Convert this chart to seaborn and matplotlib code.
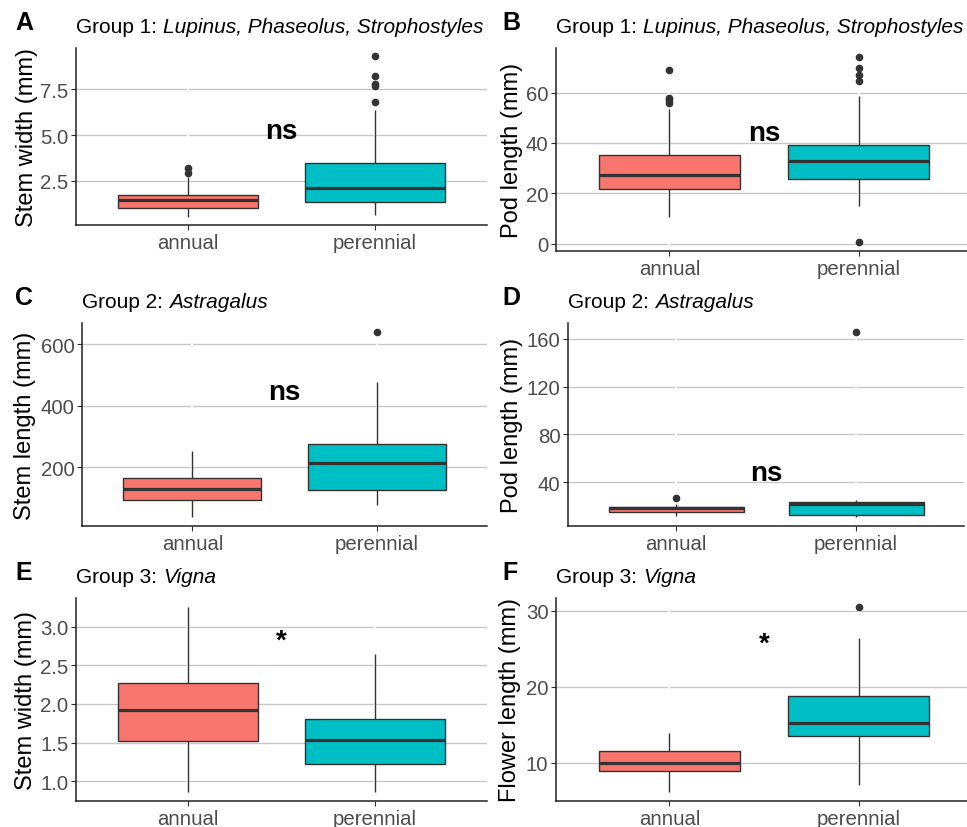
import matplotlib
matplotlib.use("Agg")
import matplotlib.pyplot as plt
import seaborn as sns
import pandas as pd

W, H = 967, 828

habits = ["annual", "perennial"]
fills = ["#F8766D", "#00BFC4"]

# A: group 1 stem width
a_annual = [0.52, 0.8, 0.95, 1.01, 1.2, 1.35, 1.43, 1.5, 1.6, 1.70, 2.68, 2.95, 3.2]
a_perennial = [0.61, 0.8, 0.95, 1.1, 1.2, 1.3, 1.34, 1.5, 1.65, 1.8, 1.9, 2.0, 2.10,
               2.3, 2.6, 2.9, 3.1, 3.3, 3.48, 6.36, 6.81, 7.68, 7.77, 8.21, 9.32]
# B: group 1 pod length
b_annual = [10.5, 14, 17, 19, 21, 21.9, 23, 24.5, 25.5, 26.5, 27.2,
            29, 31, 33, 34.5, 35.2, 53.6, 55.8, 57.1, 58.0, 68.9]
b_perennial = [0.8, 15.1, 19, 22, 24.5, 25.6, 27, 29, 30.5, 32, 32.9,
               34, 35.5, 37, 38.3, 39.0, 58.8, 64.4, 67.0, 69.7, 74.0]
# C: group 2 stem length
c_annual = [39, 92.6, 128, 164, 252]
c_perennial = [76, 100, 125, 170, 213, 250, 277, 477, 639]
# D: group 2 pod length
d_annual = [11.8, 14, 15.2, 17, 18.5, 19.2, 19.6, 22, 26.6]
d_perennial = [11.3, 12, 13, 17, 21.6, 23, 23.8, 25.2, 165.3]
# E: group 3 stem width
e_annual = [0.865, 1.52, 1.92, 2.27, 3.25]
e_perennial = [0.865, 1.22, 1.53, 1.80, 2.65]
# F: group 3 flower length
f_annual = [6.16, 8.86, 10.0, 11.5, 13.84]
f_perennial = [7.1, 10, 13.5, 14.5, 15.2, 17, 18.8, 26.4, 30.5]

letters = ["A", "B", "C", "D", "E", "F"]
group_names = ["Group 1:", "Group 1:", "Group 2:", "Group 2:", "Group 3:", "Group 3:"]
taxa = ["Lupinus, Phaseolus, Strophostyles", "Lupinus, Phaseolus, Strophostyles",
        "Astragalus", "Astragalus", "Vigna", "Vigna"]
ylabels = ["Stem width (mm)", "Pod length (mm)", "Stem length (mm)",
           "Pod length (mm)", "Stem width (mm)", "Flower length (mm)"]
annual_vals = [a_annual, b_annual, c_annual, d_annual, e_annual, f_annual]
perennial_vals = [a_perennial, b_perennial, c_perennial, d_perennial, e_perennial, f_perennial]
yticks = [[2.5, 5.0, 7.5], [0, 20, 40, 60], [200, 400, 600],
          [40, 80, 120, 160], [1.0, 1.5, 2.0, 2.5, 3.0], [10, 20, 30]]
yticklabels = [["2.5", "5.0", "7.5"], ["0", "20", "40", "60"], ["200", "400", "600"],
               ["40", "80", "120", "160"], ["1.0", "1.5", "2.0", "2.5", "3.0"], ["10", "20", "30"]]
ylims = [(0.08, 9.76), (-2.86, 77.66), (9, 669), (3.6, 173), (0.746, 3.37), (4.94, 31.7)]
sig_labels = ["ns", "ns", "ns", "ns", "*", "*"]
sig_y = [5.2, 44, 444, 48, 2.82, 25.7]

# axes boxes in pixels: left, right, top, bottom
boxes = [(76, 487, 49, 226), (556, 972, 49, 252),
         (82, 487, 324, 527), (568, 964, 324, 527),
         (76, 487, 599, 802), (556, 972, 599, 802)]
title_base = [33, 33, 308, 308, 583, 583]
letter_x = [15, 502, 15, 502, 15, 502]
letter_base = [30, 30, 305, 305, 580, 580]
ylab_right = [38, 523, 36, 523, 37, 521]

sns.set_theme(style="white")
plt.rcParams["font.family"] = ["Liberation Sans", "DejaVu Sans"]
plt.rcParams["text.color"] = "black"

fig = plt.figure(figsize=(W / 100, H / 100), dpi=100)

for i in range(6):
    l, r, t, b = boxes[i]
    ax = fig.add_axes([l / W, 1 - b / H, (r - l) / W, (b - t) / H])
    df = pd.DataFrame({
        "habit": ["annual"] * len(annual_vals[i]) + ["perennial"] * len(perennial_vals[i]),
        "value": annual_vals[i] + perennial_vals[i],
    })
    sns.boxplot(data=df, x="habit", y="value", hue="habit", order=habits,
                hue_order=habits, palette=fills, saturation=1, width=0.75,
                linecolor="#333333", linewidth=1.0, fliersize=4.5, showcaps=False,
                flierprops=dict(marker="o", markerfacecolor="#333333",
                                markeredgecolor="#333333"),
                medianprops=dict(linewidth=2.3, color="#333333"),
                legend=False, ax=ax)
    ax.set_xlim(-0.6, 1.6)
    ax.set_ylim(*ylims[i])
    ax.set_yticks(yticks[i])
    ax.set_yticklabels(yticklabels[i])
    ax.set_axisbelow(True)
    ax.yaxis.grid(True, color="#C8C8C8", linewidth=1.0)
    for x in range(2):
        ax.axvline(x, color="white", linewidth=1.5, zorder=0.6)
    for s in ["top", "right"]:
        ax.spines[s].set_visible(False)
    for s in ["left", "bottom"]:
        ax.spines[s].set_color("#222222")
        ax.spines[s].set_linewidth(1.1)
    ax.tick_params(axis="both", labelsize=14.7, labelcolor="#4D4D4D", color="#333333",
                   length=3.5, width=0.8, pad=2, left=True, bottom=True)
    ax.set_xlabel("")
    ax.set_ylabel(ylabels[i], fontsize=17, color="black")
    ax.yaxis.set_label_coords((ylab_right[i] - l) / (r - l), 0.5)

    ax.text(0.5, sig_y[i], sig_labels[i], ha="center", va="center",
            fontsize=20, fontweight="bold", color="black")

    # panel letter and title (plain prefix + italic taxa)
    fig.text(letter_x[i] / W, 1 - letter_base[i] / H, letters[i], fontsize=18,
             fontweight="bold", va="baseline", ha="left", color="black")
    t1 = fig.text(l / W, 1 - title_base[i] / H, group_names[i], fontsize=15,
                  va="baseline", ha="left", color="black")
    ax.annotate(taxa[i], xy=(1, 0), xycoords=t1, xytext=(4.2, 0),
                textcoords="offset points", va="bottom", ha="left",
                fontsize=15, fontstyle="italic", color="black",
                annotation_clip=False)

fig.savefig("out.png", dpi=100)
